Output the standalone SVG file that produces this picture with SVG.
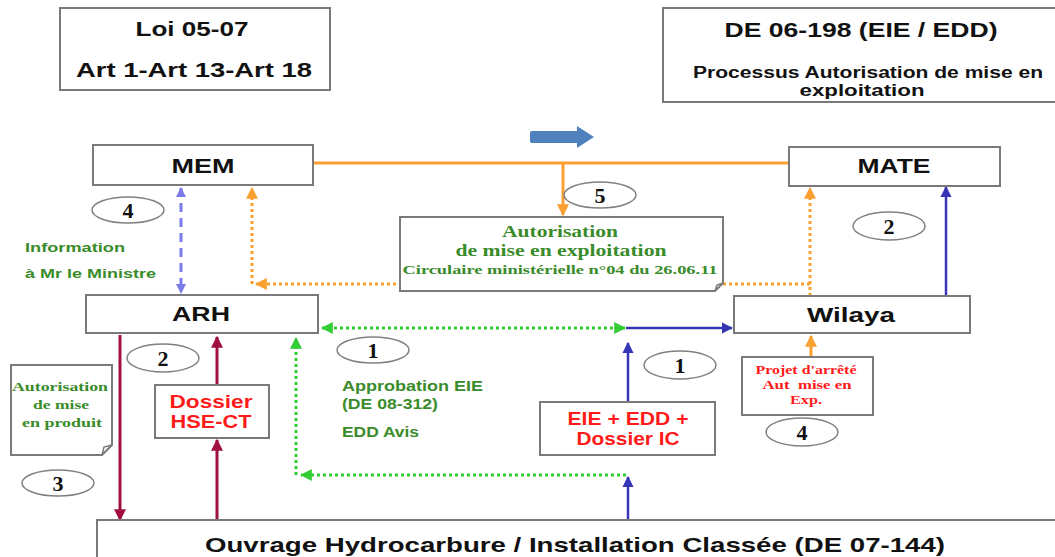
<svg xmlns="http://www.w3.org/2000/svg" width="1055" height="557" viewBox="0 0 1055 557">
<style>
.box{fill:#fff;stroke:#7a7a7a;stroke-width:2}
.t{font-family:"Liberation Sans",Arial,sans-serif;font-weight:bold;fill:#111;text-anchor:middle}
.red{font-family:"Liberation Sans",Arial,sans-serif;font-weight:bold;fill:#ff1a1a;text-anchor:middle}
.gs{font-family:"Liberation Sans",Arial,sans-serif;font-weight:bold;fill:#3a8c2a}
.gser{font-family:"Liberation Serif","Times New Roman",serif;font-weight:bold;fill:#3a8c2a;text-anchor:middle}
.rser{font-family:"Liberation Serif","Times New Roman",serif;font-weight:bold;fill:#ff1a1a;text-anchor:middle;white-space:pre}
.ell{fill:#fff;stroke:#808080;stroke-width:1.5}
.num{font-family:"Liberation Serif","Times New Roman",serif;font-weight:bold;font-size:22px;fill:#111;text-anchor:middle}
.or{fill:none;stroke:#f9a030;stroke-width:3}
.ord{fill:none;stroke:#f9a030;stroke-width:3;stroke-dasharray:3 3}
.gd{fill:none;stroke:#33cc33;stroke-width:3;stroke-dasharray:3 3}
.bl{fill:none;stroke:#3535b5;stroke-width:2.5}
.lav{fill:none;stroke:#7b7bea;stroke-width:3;stroke-dasharray:9 6}
.cr{fill:none;stroke:#a01040;stroke-width:3}
</style>
<defs>
<marker id="aO" viewBox="0 0 10 10" refX="9" refY="5" markerWidth="4" markerHeight="4" orient="auto-start-reverse"><path d="M0,0 L10,5 L0,10 z" fill="#f9a030"/></marker>
<marker id="aG" viewBox="0 0 10 10" refX="9" refY="5" markerWidth="4" markerHeight="4" orient="auto-start-reverse"><path d="M0,0 L10,5 L0,10 z" fill="#33cc33"/></marker>
<marker id="aB" viewBox="0 0 10 10" refX="9" refY="5" markerWidth="4.5" markerHeight="4.5" orient="auto-start-reverse"><path d="M0,0 L10,5 L0,10 z" fill="#3535b5"/></marker>
<marker id="aL" viewBox="0 0 10 10" refX="9" refY="5" markerWidth="3.5" markerHeight="3.5" orient="auto-start-reverse"><path d="M0,0 L10,5 L0,10 z" fill="#7b7bea"/></marker>
<marker id="aC" viewBox="0 0 10 10" refX="9" refY="5" markerWidth="4" markerHeight="4" orient="auto-start-reverse"><path d="M0,0 L10,5 L0,10 z" fill="#a01040"/></marker>
</defs>

<g id="connectors">
<path class="or" d="M313,163 L790,163"/>
<path class="or" d="M563,163 L563,215" marker-end="url(#aO)"/>
<path class="ord" d="M810,296 L810,188" marker-end="url(#aO)"/>
<path class="ord" d="M810,284 L256,284" marker-end="url(#aO)"/>
<path class="ord" d="M252,284 L252,188" marker-end="url(#aO)"/>
<path class="bl" d="M946,296 L946,187" marker-end="url(#aB)"/>
<path class="lav" d="M181,188 L181,293" marker-start="url(#aL)" marker-end="url(#aL)"/>
<path class="gd" d="M625,328 L322,328" marker-start="url(#aG)" marker-end="url(#aG)"/>
<path class="bl" d="M626,328 L732,328" marker-end="url(#aB)"/>
<path class="bl" d="M628,401 L628,343" marker-end="url(#aB)"/>
<path class="bl" d="M628,519 L628,477" marker-end="url(#aB)"/>
<path class="gd" d="M626,475 L301,475" marker-end="url(#aG)"/>
<path class="gd" d="M296,475 L296,338" marker-end="url(#aG)"/>
<path class="cr" d="M120,335 L120,520" marker-end="url(#aC)"/>
<path class="cr" d="M217,519 L217,440" marker-end="url(#aC)"/>
<path class="cr" d="M217,384 L217,337" marker-end="url(#aC)"/>
<path class="or" d="M811,356 L811,336" marker-end="url(#aO)"/>
<path class="or" d="M872,408 L821,408" marker-end="url(#aO)"/>
<path d="M530,133 Q530,131 532,131 L577,131 L577,126 L594,137 L577,148 L577,143 L532,143 Q530,143 530,141 z" fill="#4f81bd"/>
</g>

<g id="loi">
<rect class="box" x="60" y="8" width="270" height="82"/>
<text class="t" x="192" y="36" font-size="21" textLength="113" lengthAdjust="spacingAndGlyphs">Loi 05-07</text>
<text class="t" x="194" y="77" font-size="21" textLength="236" lengthAdjust="spacingAndGlyphs">Art 1-Art 13-Art 18</text>
</g>

<g id="de">
<rect class="box" x="663" y="8" width="400" height="94"/>
<text class="t" x="861" y="37" font-size="21" textLength="273" lengthAdjust="spacingAndGlyphs">DE 06-198 (EIE / EDD)</text>
<text class="t" x="868" y="78" font-size="16" textLength="350" lengthAdjust="spacingAndGlyphs">Processus Autorisation de mise en</text>
<text class="t" x="862" y="96" font-size="16" textLength="125" lengthAdjust="spacingAndGlyphs">exploitation</text>
</g>

<g id="mem">
<rect class="box" x="93" y="145" width="220" height="40"/>
<text class="t" x="203" y="173" font-size="20" textLength="63" lengthAdjust="spacingAndGlyphs">MEM</text>
</g>

<g id="mate">
<rect class="box" x="789" y="147" width="211" height="39"/>
<text class="t" x="894" y="173" font-size="20" textLength="73" lengthAdjust="spacingAndGlyphs">MATE</text>
</g>

<g id="autorisation">
<path class="box" d="M400,217 L723,217 L723,283 L715,291 L400,291 z"/>
<path d="M715,291 L717,285 L723,283" fill="none" stroke="#7a7a7a" stroke-width="1.5"/>
<text class="gser" x="560" y="237" font-size="16" textLength="116" lengthAdjust="spacingAndGlyphs">Autorisation</text>
<text class="gser" x="561" y="256" font-size="16" textLength="211" lengthAdjust="spacingAndGlyphs">de mise en exploitation</text>
<text class="gser" x="560" y="274" font-size="13" textLength="315" lengthAdjust="spacingAndGlyphs">Circulaire ministérielle n°04 du 26.06.11</text>
</g>

<g id="arh">
<rect class="box" x="86" y="295" width="232" height="38"/>
<text class="t" x="201" y="321" font-size="20" textLength="58" lengthAdjust="spacingAndGlyphs">ARH</text>
</g>

<g id="wilaya">
<rect class="box" x="734" y="296" width="236" height="37"/>
<text class="t" x="851" y="322" font-size="20" textLength="88" lengthAdjust="spacingAndGlyphs">Wilaya</text>
</g>

<g id="info">
<text class="gs" x="25" y="252" font-size="13.5" textLength="100" lengthAdjust="spacingAndGlyphs">Information</text>
<text class="gs" x="25" y="278" font-size="13.5" textLength="131" lengthAdjust="spacingAndGlyphs">à Mr le Ministre</text>
</g>

<g id="approbation">
<text class="gs" x="342" y="391" font-size="14" textLength="141" lengthAdjust="spacingAndGlyphs">Approbation EIE</text>
<text class="gs" x="342" y="409" font-size="14" textLength="96" lengthAdjust="spacingAndGlyphs">(DE 08-312)</text>
<text class="gs" x="342" y="437" font-size="14" textLength="77" lengthAdjust="spacingAndGlyphs">EDD Avis</text>
</g>

<g id="eie">
<rect class="box" x="540" y="402" width="175" height="53"/>
<text class="red" x="628" y="425" font-size="18" textLength="121" lengthAdjust="spacingAndGlyphs">EIE + EDD +</text>
<text class="red" x="628" y="445" font-size="18" textLength="103" lengthAdjust="spacingAndGlyphs">Dossier IC</text>
</g>

<g id="projet">
<rect class="box" x="742" y="357" width="131" height="58"/>
<text class="rser" x="806" y="374" font-size="12" textLength="101" lengthAdjust="spacingAndGlyphs">Projet d'arrêté</text>
<text class="rser" x="807" y="389" font-size="12" textLength="89" lengthAdjust="spacingAndGlyphs">Aut  mise en</text>
<text class="rser" x="806" y="404" font-size="12" textLength="32" lengthAdjust="spacingAndGlyphs">Exp.</text>
</g>

<g id="dossier">
<rect class="box" x="155" y="385" width="114" height="53"/>
<text class="red" x="211" y="408" font-size="18" textLength="83" lengthAdjust="spacingAndGlyphs">Dossier</text>
<text class="red" x="211" y="428" font-size="18" textLength="81" lengthAdjust="spacingAndGlyphs">HSE-CT</text>
</g>

<g id="produit">
<path class="box" d="M11,365 L112,365 L112,445 L102,455 L11,455 z"/>
<path d="M102,455 L104,447 L112,445" fill="none" stroke="#7a7a7a" stroke-width="1.5"/>
<text class="gser" x="60" y="391" font-size="12.5" textLength="96" lengthAdjust="spacingAndGlyphs">Autorisation</text>
<text class="gser" x="61" y="409" font-size="12.5" textLength="56" lengthAdjust="spacingAndGlyphs">de mise</text>
<text class="gser" x="62" y="427" font-size="12.5" textLength="80" lengthAdjust="spacingAndGlyphs">en produit</text>
</g>

<g id="ouvrage">
<rect class="box" x="97" y="520" width="970" height="50"/>
<text class="t" x="575" y="552" font-size="21" textLength="740" lengthAdjust="spacingAndGlyphs">Ouvrage Hydrocarbure / Installation Classée (DE 07-144)</text>
</g>

<g id="e5"><ellipse class="ell" cx="600" cy="195" rx="36" ry="13"/><text class="num" x="600" y="203">5</text></g>
<g id="e4a"><ellipse class="ell" cx="128" cy="210" rx="36" ry="13"/><text class="num" x="128" y="218">4</text></g>
<g id="e2a"><ellipse class="ell" cx="889" cy="226" rx="36" ry="14"/><text class="num" x="889" y="234">2</text></g>
<g id="e1a"><ellipse class="ell" cx="373" cy="350" rx="36" ry="13"/><text class="num" x="373" y="358">1</text></g>
<g id="e1b"><ellipse class="ell" cx="680" cy="365" rx="36" ry="14"/><text class="num" x="680" y="373">1</text></g>
<g id="e2b"><ellipse class="ell" cx="163" cy="358" rx="36" ry="14"/><text class="num" x="163" y="366">2</text></g>
<g id="e4b"><ellipse class="ell" cx="802" cy="432" rx="36" ry="14"/><text class="num" x="802" y="440">4</text></g>
<g id="e3"><ellipse class="ell" cx="58" cy="483" rx="36" ry="13"/><text class="num" x="58" y="491">3</text></g>
</svg>
